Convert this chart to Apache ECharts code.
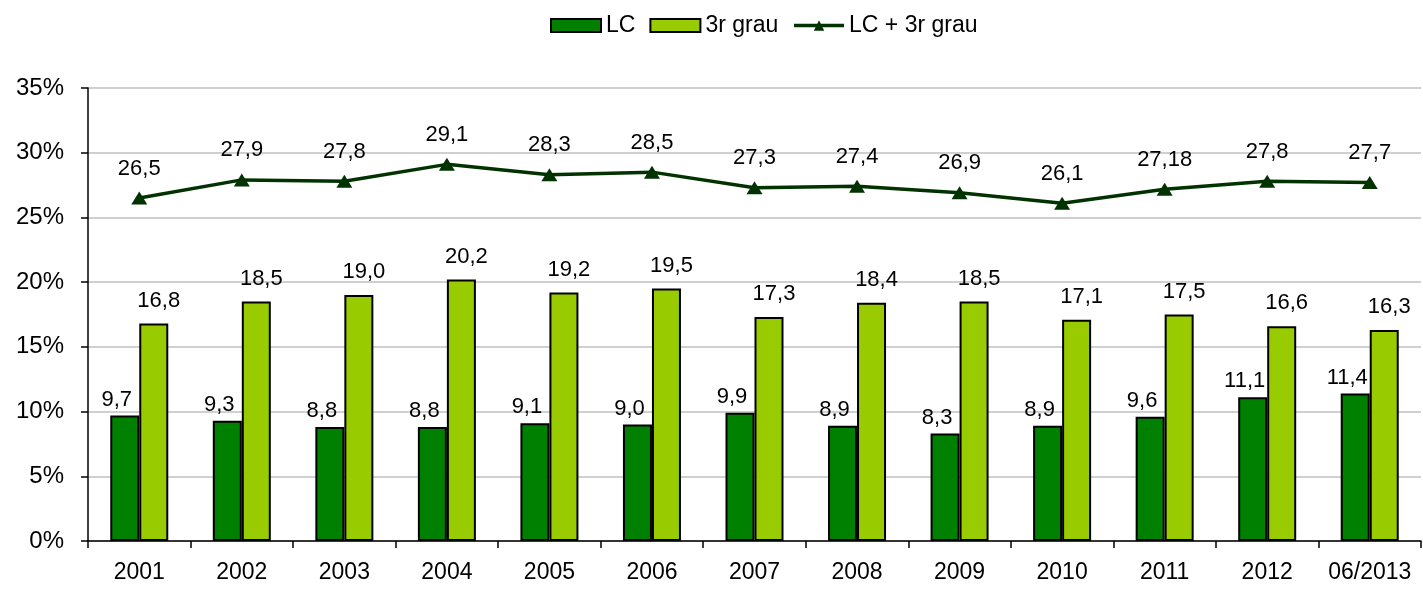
<!DOCTYPE html>
<html>
<head>
<meta charset="utf-8">
<script src="https://cdn.jsdelivr.net/npm/echarts@6/dist/echarts.min.js"></script>
<style>
	html,body{margin:0;padding:0;background:#fff;}
	#main{width:1423px;height:595px;}
</style>
</head>
<body>
<div id="main"></div>
<script type="text/javascript">
	var categories = ['2001','2002','2003','2004','2005','2006','2007','2008','2009','2010','2011','2012','06/2013'];
	var lc = [9.7,9.3,8.8,8.8,9.1,9.0,9.9,8.9,8.3,8.9,9.6,11.1,11.4];
	var tercer_grau = [16.8,18.5,19.0,20.2,19.2,19.5,17.3,18.4,18.5,17.1,17.5,16.6,16.3];
	var total = [26.5,27.9,27.8,29.1,28.3,28.5,27.3,27.4,26.9,26.1,27.18,27.8,27.7];
	var y_ticks = [0,5,10,15,20,25,30,35];

	var font = '"Liberation Sans", Arial, sans-serif';

	//format amb coma decimal
	function fmt(v){
		var s = Math.abs(Math.round(v*10) - v*10) < 1e-9 ? v.toFixed(1) : String(v);
		return s.replace('.', ',');
	}

	var myChart = echarts.init(document.getElementById('main'));

	var option = {
		animation:false,
		textStyle:{fontFamily:font,color:'#000'},
		legend:{
			left:545,
			top:9,
			itemWidth:50,
			itemHeight:13,
			itemGap:14,
			textStyle:{fontSize:23,color:'#000',fontFamily:font},
			data:[
				{name:'LC',icon:'rect'},
				{name:'3r grau',icon:'rect'},
				{name:'LC + 3r grau',lineStyle:{width:3.5,color:'#003300'}}
			]
		},
		grid:{left:88,right:2,top:88,bottom:54,containLabel:false},
		xAxis:{
			type:'category',
			data:categories,
			axisLine:{lineStyle:{color:'#000',width:1.5}},
			axisTick:{show:true,interval:0,length:7,lineStyle:{color:'#000',width:1.5}},
			axisLabel:{interval:0,fontSize:23,color:'#000',margin:20,fontFamily:font}
		},
		yAxis:{
			type:'value',
			min:y_ticks[0],
			max:y_ticks[y_ticks.length-1],
			interval:5,
			axisLine:{show:true,lineStyle:{color:'#000',width:1.5}},
			axisTick:{show:true,length:7,lineStyle:{color:'#000',width:1.5}},
			splitLine:{lineStyle:{color:'#c0c0c0',width:1.5}},
			axisLabel:{fontSize:24,color:'#000',margin:24,fontFamily:font,formatter:function(v){return v+'%';}}
		},
		series:[
			{
				name:'LC',
				type:'bar',
				data:lc,
				barWidth:29,
				barGap:'0%',
				itemStyle:{color:'#008000',borderColor:'#000',borderWidth:2},
				label:{show:true,position:'top',distance:5,offset:[-8,0],fontSize:22,color:'#000',fontFamily:font,formatter:function(p){return fmt(p.value);}}
			},
			{
				name:'3r grau',
				type:'bar',
				data:tercer_grau,
				barWidth:29,
				barGap:'0%',
				itemStyle:{color:'#99cc00',borderColor:'#000',borderWidth:2},
				label:{show:true,position:'top',distance:12,offset:[5,0],fontSize:22,color:'#000',fontFamily:font,formatter:function(p){return fmt(p.value);}}
			},
			{
				name:'LC + 3r grau',
				type:'line',
				data:total,
				symbol:'triangle',
				symbolSize:[16,13],
				lineStyle:{color:'#003300',width:3.5},
				itemStyle:{color:'#003300'},
				label:{show:true,position:'top',distance:12,fontSize:22,color:'#000',fontFamily:font,formatter:function(p){return fmt(p.value);}}
			}
		]
	};

	myChart.setOption(option);
</script>
</body>
</html>
